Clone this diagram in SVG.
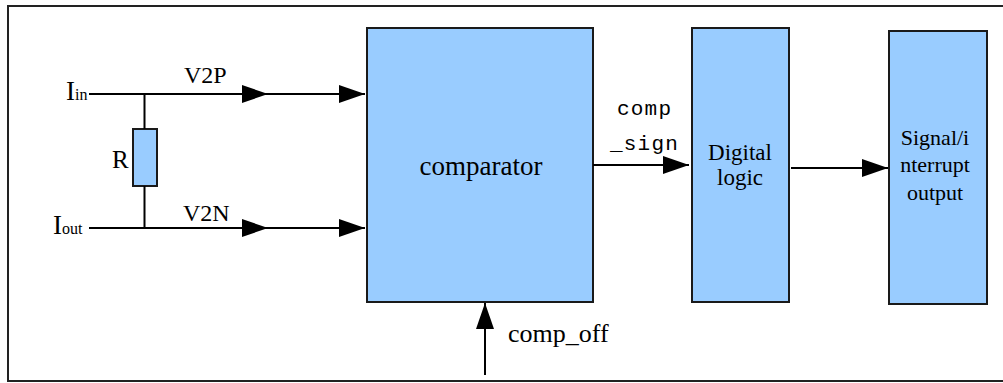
<svg xmlns="http://www.w3.org/2000/svg" width="1003" height="383" viewBox="0 0 1003 383">
<defs>
<marker id="ah" markerWidth="26" markerHeight="18" refX="26" refY="9" orient="auto" markerUnits="userSpaceOnUse">
<path d="M0,0 L26,9 L0,18 Z" fill="#000"/>
</marker>
<style>
.box{fill:#99ccff;stroke:#1a1a1a;stroke-width:2}
.ln{stroke:#000;stroke-width:2;fill:none}
</style>
</defs>
<rect width="1003" height="383" fill="#fff"/>
<g id="frame" class="ln">
<path d="M1004,6 H8 V381 H1004" stroke="#222"/>
</g>
<g font-family="'Liberation Serif', 'Times New Roman', 'DejaVu Serif', serif" fill="#000">
<g id="resistor">
<rect class="box" x="133" y="129" width="24" height="57"/>
<text x="112" y="168" font-size="25">R</text>
</g>
<g id="comparator">
<rect class="box" x="367" y="28" width="226" height="274"/>
<text x="481" y="175" font-size="27" text-anchor="middle">comparator</text>
</g>
<g id="digital">
<rect class="box" x="692" y="28" width="97" height="274"/>
<text x="740" y="160" font-size="23" text-anchor="middle">Digital</text>
<text x="740" y="185" font-size="23" text-anchor="middle">logic</text>
</g>
<g id="signal">
<rect class="box" x="889" y="31" width="98" height="273"/>
<text x="935" y="145" font-size="22" text-anchor="middle">Signal/i</text>
<text x="935" y="172" font-size="22" text-anchor="middle">nterrupt</text>
<text x="935" y="200" font-size="22" text-anchor="middle">output</text>
</g>
<g id="connectors" class="ln">
<path d="M89,94 H268" marker-end="url(#ah)"/>
<path d="M268,94 H365" marker-end="url(#ah)"/>
<path d="M89,228 H268" marker-end="url(#ah)"/>
<path d="M268,228 H365" marker-end="url(#ah)"/>
<path d="M144.5,94 V129 M144.5,186 V228"/>
<path d="M593,165 H689" marker-end="url(#ah)"/>
<path d="M791,168 H888" marker-end="url(#ah)"/>
<path d="M485,375 V303" marker-end="url(#ah)"/>
</g>
<g id="labels">
<text x="66" y="100" font-size="27">I<tspan font-size="16">in</tspan></text>
<text x="53" y="234" font-size="27">I<tspan font-size="16">out</tspan></text>
<text x="184" y="83" font-size="24">V2P</text>
<text x="183" y="221" font-size="24">V2N</text>
<text x="617" y="115" font-size="21" letter-spacing="1.2" font-family="'Liberation Mono', 'Courier New', monospace">comp</text>
<text x="610" y="150" font-size="21" letter-spacing="1.2" font-family="'Liberation Mono', 'Courier New', monospace">_sign</text>
<text x="508" y="342" font-size="26">comp_off</text>
</g>
</g>
</svg>
